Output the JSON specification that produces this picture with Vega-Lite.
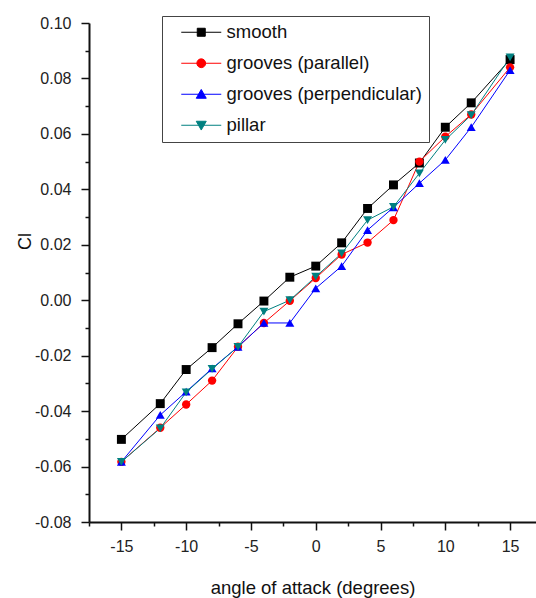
{
  "$schema": "https://vega.github.io/schema/vega-lite/v6.json",
  "width": 447,
  "height": 499,
  "autosize": {"type": "none"},
  "padding": {"left": 89, "top": 23, "right": 0, "bottom": 76},
  "background": "white",
  "config": {
    "view": {"stroke": null},
    "font": "Liberation Sans"
  },
  "data": {
    "values": [
      {"series": "smooth", "aoa": -15, "cl": -0.0502},
      {"series": "smooth", "aoa": -12, "cl": -0.0373},
      {"series": "smooth", "aoa": -10, "cl": -0.0250},
      {"series": "smooth", "aoa": -8, "cl": -0.0171},
      {"series": "smooth", "aoa": -6, "cl": -0.0085},
      {"series": "smooth", "aoa": -4, "cl": -0.0003},
      {"series": "smooth", "aoa": -2, "cl": 0.0083},
      {"series": "smooth", "aoa": 0, "cl": 0.0123},
      {"series": "smooth", "aoa": 2, "cl": 0.0207},
      {"series": "smooth", "aoa": 4, "cl": 0.0331},
      {"series": "smooth", "aoa": 6, "cl": 0.0416},
      {"series": "smooth", "aoa": 8, "cl": 0.0495},
      {"series": "smooth", "aoa": 10, "cl": 0.0624},
      {"series": "smooth", "aoa": 12, "cl": 0.0712},
      {"series": "smooth", "aoa": 15, "cl": 0.0868},
      {"series": "grooves (parallel)", "aoa": -15, "cl": -0.0583},
      {"series": "grooves (parallel)", "aoa": -12, "cl": -0.0460},
      {"series": "grooves (parallel)", "aoa": -10, "cl": -0.0376},
      {"series": "grooves (parallel)", "aoa": -8, "cl": -0.0290},
      {"series": "grooves (parallel)", "aoa": -6, "cl": -0.0168},
      {"series": "grooves (parallel)", "aoa": -4, "cl": -0.0082},
      {"series": "grooves (parallel)", "aoa": -2, "cl": -0.0002},
      {"series": "grooves (parallel)", "aoa": 0, "cl": 0.0080},
      {"series": "grooves (parallel)", "aoa": 2, "cl": 0.0165},
      {"series": "grooves (parallel)", "aoa": 4, "cl": 0.0208},
      {"series": "grooves (parallel)", "aoa": 6, "cl": 0.0289},
      {"series": "grooves (parallel)", "aoa": 8, "cl": 0.0500},
      {"series": "grooves (parallel)", "aoa": 10, "cl": 0.0590},
      {"series": "grooves (parallel)", "aoa": 12, "cl": 0.0670},
      {"series": "grooves (parallel)", "aoa": 15, "cl": 0.0840},
      {"series": "grooves (perpendicular)", "aoa": -15, "cl": -0.0583},
      {"series": "grooves (perpendicular)", "aoa": -12, "cl": -0.0414},
      {"series": "grooves (perpendicular)", "aoa": -10, "cl": -0.0330},
      {"series": "grooves (perpendicular)", "aoa": -8, "cl": -0.0246},
      {"series": "grooves (perpendicular)", "aoa": -6, "cl": -0.0168},
      {"series": "grooves (perpendicular)", "aoa": -4, "cl": -0.0082},
      {"series": "grooves (perpendicular)", "aoa": -2, "cl": -0.0082},
      {"series": "grooves (perpendicular)", "aoa": 0, "cl": 0.0043},
      {"series": "grooves (perpendicular)", "aoa": 2, "cl": 0.0123},
      {"series": "grooves (perpendicular)", "aoa": 4, "cl": 0.0253},
      {"series": "grooves (perpendicular)", "aoa": 6, "cl": 0.0335},
      {"series": "grooves (perpendicular)", "aoa": 8, "cl": 0.0422},
      {"series": "grooves (perpendicular)", "aoa": 10, "cl": 0.0506},
      {"series": "grooves (perpendicular)", "aoa": 12, "cl": 0.0624},
      {"series": "grooves (perpendicular)", "aoa": 15, "cl": 0.0830},
      {"series": "pillar", "aoa": -15, "cl": -0.0583},
      {"series": "pillar", "aoa": -12, "cl": -0.0462},
      {"series": "pillar", "aoa": -10, "cl": -0.0332},
      {"series": "pillar", "aoa": -8, "cl": -0.0248},
      {"series": "pillar", "aoa": -6, "cl": -0.0168},
      {"series": "pillar", "aoa": -4, "cl": -0.0041},
      {"series": "pillar", "aoa": -2, "cl": 0.0000},
      {"series": "pillar", "aoa": 0, "cl": 0.0085},
      {"series": "pillar", "aoa": 2, "cl": 0.0169},
      {"series": "pillar", "aoa": 4, "cl": 0.0289},
      {"series": "pillar", "aoa": 6, "cl": 0.0337},
      {"series": "pillar", "aoa": 8, "cl": 0.0458},
      {"series": "pillar", "aoa": 10, "cl": 0.0578},
      {"series": "pillar", "aoa": 12, "cl": 0.0668},
      {"series": "pillar", "aoa": 15, "cl": 0.0876}
    ]
  },
  "encoding": {
    "x": {
      "field": "aoa",
      "type": "quantitative",
      "scale": {"domain": [-17.5, 17], "nice": false, "zero": false},
      "axis": {
        "title": "angle of attack (degrees)",
        "values": [-17.5, -15, -12.5, -10, -7.5, -5, -2.5, 0, 2.5, 5, 7.5, 10, 12.5, 15],
        "labelExpr": "datum.value % 5 === 0 ? (datum.value < 0 ? '-' : '') + abs(datum.value) : ''",
        "tickSize": {"condition": {"test": "datum.value % 5 === 0", "value": 8}, "value": 4},
        "tickColor": "#111",
        "tickWidth": 1.5,
        "domainColor": "#111",
        "domainWidth": 2,
        "grid": false,
        "labelFont": "Liberation Sans",
        "labelFontSize": 16,
        "labelColor": "#222",
        "labelPadding": 8,
        "labelFlush": false,
        "labelOverlap": false,
        "titleFont": "Liberation Sans",
        "titleFontSize": 18.5,
        "titleFontWeight": "normal",
        "titleColor": "#111",
        "titleBaseline": "alphabetic",
        "titleY": 71
      }
    },
    "y": {
      "field": "cl",
      "type": "quantitative",
      "scale": {"domain": [-0.08, 0.1], "nice": false, "zero": false},
      "axis": {
        "title": "Cl",
        "values": [-0.08, -0.07, -0.06, -0.05, -0.04, -0.03, -0.02, -0.01, 0, 0.01, 0.02, 0.03, 0.04, 0.05, 0.06, 0.07, 0.08, 0.09, 0.1],
        "labelExpr": "round(datum.value * 100) % 2 === 0 ? (datum.value < 0 ? '-' : '') + format(abs(datum.value), '.2f') : ''",
        "tickSize": {"condition": {"test": "round(datum.value * 100) % 2 === 0", "value": 8}, "value": 4},
        "tickColor": "#111",
        "tickWidth": 1.5,
        "domainColor": "#111",
        "domainWidth": 2,
        "grid": false,
        "labelFont": "Liberation Sans",
        "labelFontSize": 16,
        "labelColor": "#222",
        "labelPadding": 10,
        "labelFlush": false,
        "labelOverlap": false,
        "titleFont": "Liberation Sans",
        "titleFontSize": 18,
        "titleFontWeight": "normal",
        "titleColor": "#111",
        "titleAngle": 270,
        "titleBaseline": "alphabetic",
        "titleAlign": "center",
        "titleX": -59,
        "titleY": 218
      }
    }
  },
  "layer": [
    {
      "mark": {"type": "line", "strokeWidth": 1},
      "encoding": {
        "color": {
          "field": "series",
          "type": "nominal",
          "scale": {
            "domain": ["smooth", "grooves (parallel)", "grooves (perpendicular)", "pillar"],
            "range": ["#000000", "#ff0000", "#0000ff", "#008080"]
          },
          "legend": {
            "title": null,
            "orient": "none",
            "legendX": 73,
            "legendY": -7,
            "padding": 7,
            "strokeColor": "#444",
            "fillColor": "white",
            "symbolSize": 256,
            "symbolStrokeWidth": 1,
            "symbolOpacity": 1,
            "symbolType": {"expr": "datum.value === 'smooth' ? 'M0.375,0H5.375M2.375,-0.5H3.375V0.5H2.375Z' : datum.value === 'grooves (parallel)' ? 'M0.375,0H5.375M2.325,0A0.55,0.55,0,1,0,3.425,0A0.55,0.55,0,1,0,2.325,0Z' : datum.value === 'grooves (perpendicular)' ? 'M0.375,0H5.375M2.875,-0.6L3.5,0.5H2.25Z' : 'M0.375,0H5.375M2.875,0.6L3.5,-0.5H2.25Z'"},
            "symbolFillColor": {"expr": "scale('color', datum.value)"},
            "symbolStrokeColor": {"expr": "scale('color', datum.value)"},
            "rowPadding": 12,
            "labelOffset": 39,
            "labelLimit": 0,
            "labelFont": "Liberation Sans",
            "labelFontSize": 18.5,
            "labelColor": "#111"
          }
        }
      }
    },
    {
      "transform": [{"filter": "datum.series === 'smooth'"}],
      "mark": {"type": "point", "shape": "square", "filled": true, "opacity": 1, "size": 80},
      "encoding": {"color": {"field": "series", "type": "nominal", "legend": null}}
    },
    {
      "transform": [{"filter": "datum.series === 'grooves (parallel)'"}],
      "mark": {"type": "point", "shape": "circle", "filled": true, "opacity": 1, "size": 70},
      "encoding": {"color": {"field": "series", "type": "nominal", "legend": null}}
    },
    {
      "transform": [{"filter": "datum.series === 'grooves (perpendicular)'"}],
      "mark": {"type": "point", "shape": "triangle-up", "filled": true, "opacity": 1, "size": 80},
      "encoding": {"color": {"field": "series", "type": "nominal", "legend": null}}
    },
    {
      "transform": [{"filter": "datum.series === 'pillar'"}],
      "mark": {"type": "point", "shape": "triangle-down", "filled": true, "opacity": 1, "size": 80},
      "encoding": {"color": {"field": "series", "type": "nominal", "legend": null}}
    }
  ]
}
